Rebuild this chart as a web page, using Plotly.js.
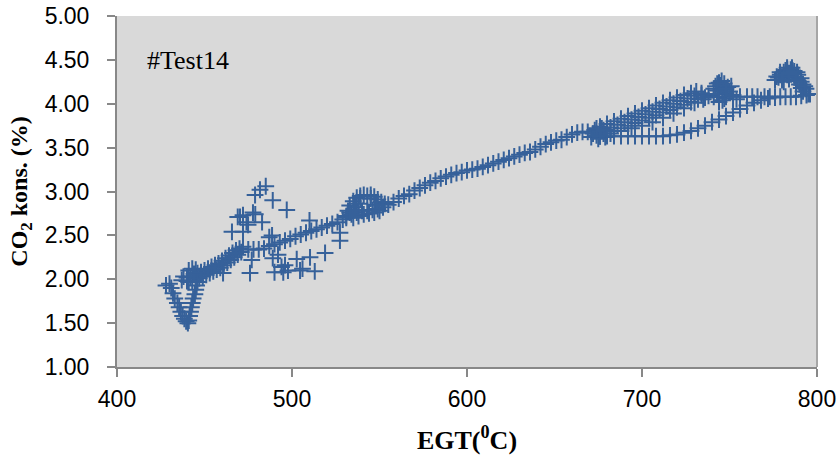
<!DOCTYPE html>
<html>
<head>
<meta charset="utf-8">
<script src="https://cdn.plot.ly/plotly-3.0.1.min.js"></script>
<style>html,body{margin:0;padding:0;background:#fff;}#chart{width:839px;height:461px;}</style>
</head>
<body>
<div id="chart"></div>
<script>
// Lower-left dip
const egtDip = [428,430,431,432,433,434.5,435.5,436.5,437.5,438.5,439.5,440.5,441,441.5,442,442.5,443,443.5,444.5,445,445.5,446];
const co2Dip = [1.93,1.95,1.90,1.84,1.78,1.73,1.68,1.63,1.58,1.55,1.52,1.50,1.53,1.58,1.63,1.68,1.73,1.78,1.83,1.88,1.93,1.97];

// Dense cluster 437-472
const egtStart = [437,438,440,440,441,441,443,443,445,445,447,449,451,453,455,457,459,461,463,465,467,469,471,
                  442,444,446,448,450,452,454,456,458,460,462,464,466,468,470,472];
const co2Start = [1.99,2.03,2.02,1.98,1.97,2.10,1.98,2.12,1.99,2.11,2.01,2.03,2.05,2.07,2.09,2.11,2.13,2.16,2.19,2.22,2.25,2.28,2.31,
                  2.03,2.06,2.07,2.08,2.10,2.12,2.14,2.16,2.18,2.21,2.24,2.27,2.30,2.33,2.35,2.37];

// Scattered excursions 460-530
const egtScatter = [465.7,469,470.3,472,472,474,474.9,477.7,479,482.9,478.9,481.7,485,489,497,488.6,487,510,
                    460.6,476,477,489,490,492,494,495,496,497.7,502.7,504.6,506,510.3,513,518.9,527.4,527.4];
const co2Scatter = [2.54,2.71,2.71,2.73,2.54,2.65,2.62,2.76,2.74,2.65,2.96,3.02,3.06,2.90,2.79,2.50,2.48,2.67,
                    2.07,2.07,2.22,2.24,2.08,2.28,2.14,2.08,2.16,2.10,2.23,2.10,2.12,2.25,2.09,2.30,2.44,2.53];

// Main line 472-531
const egtLineA = [475,478,481,484,487,490,493,496,499,502,505,508,511,514,517,520,523,526,529,531];
const co2LineA = [2.34,2.34,2.34,2.35,2.38,2.40,2.42,2.44,2.46,2.49,2.51,2.53,2.55,2.57,2.59,2.61,2.63,2.65,2.68,2.70];

// Loop around 531-556
const egtLoop = [531,532,533,535,537,539,541,543,545,547,549,551,553,555,552,549,546,543,540,537,534,536,538,548,535,538,541,544,547,550,533,536,539,545];
const co2Loop = [2.72,2.78,2.84,2.89,2.93,2.95,2.96,2.95,2.96,2.94,2.91,2.88,2.86,2.85,2.82,2.80,2.79,2.78,2.78,2.76,2.74,2.82,2.86,2.85,2.70,2.72,2.74,2.75,2.76,2.78,2.76,2.79,2.92,2.92];

// Main line 558-669
const egtLineB = [558,561,564,567,570,573,576,579,582,585,588,591,594,597,600,603,606,609,612,615,618,621,624,627,630,633,636,639,642,645,648,651,654,657,660,663,666,669];
const co2LineB = [2.88,2.92,2.95,2.97,3.01,3.04,3.07,3.10,3.12,3.15,3.17,3.19,3.21,3.22,3.24,3.25,3.26,3.28,3.30,3.32,3.34,3.36,3.38,3.40,3.42,3.44,3.45,3.48,3.51,3.54,3.56,3.58,3.59,3.62,3.65,3.67,3.68,3.68];

// Cluster near 675
const egtKnot = [671,672,673,674,675,676,677,678,679,680,674,676];
const co2Knot = [3.62,3.66,3.70,3.64,3.60,3.68,3.72,3.66,3.62,3.70,3.72,3.63];

// Upper band 676-736
const egtBand = [676,680,684,688,692,696,700,704,708,712,716,720,724,728,731,734,
                 678,682,686,690,694,698,702,706,710,714,718,722,726,730,734,
                 680,684,688,692,696,700,704,708,712,716,720,724,728,732,736,
                 676,682,688,694,700,706,712,718,724,730,735];
const co2Band = [3.74,3.77,3.80,3.83,3.86,3.89,3.92,3.95,3.98,4.01,4.04,4.07,4.10,4.12,4.14,4.12,
                 3.70,3.73,3.76,3.79,3.82,3.85,3.88,3.91,3.94,3.97,4.00,4.03,4.06,4.09,4.10,
                 3.66,3.69,3.72,3.75,3.78,3.81,3.84,3.87,3.90,3.93,3.96,3.99,4.02,4.05,4.07,
                 3.63,3.66,3.69,3.72,3.75,3.79,3.84,3.89,3.95,4.01,4.05];

// Lower return branch 676-776
const egtReturn = [676,680,684,688,692,696,700,704,708,712,716,720,724,728,732,736,740,744,748,752,756,760,764,768,772,776];
const co2Return = [3.63,3.63,3.63,3.63,3.63,3.63,3.63,3.63,3.63,3.63,3.64,3.65,3.67,3.69,3.72,3.75,3.79,3.82,3.86,3.90,3.94,3.98,4.01,4.04,4.06,4.07];

// Plateau 738-796
const egtPlateau = [738,741,744,748,752,756,760,763,766,770,773,776,779,782,785,788,791,794,796];
const co2Plateau = [4.09,4.08,4.08,4.08,4.08,4.08,4.08,4.08,4.08,4.08,4.08,4.08,4.08,4.08,4.08,4.08,4.09,4.10,4.11];

// Cluster near 745
const egtPeak1 = [741,742,743,743,744,744,744,745.5,746,746,747,747,748,749,750,751,752,754,745,743,748];
const co2Peak1 = [4.17,4.20,4.15,4.11,4.24,4.08,4.02,4.26,4.16,4.04,4.23,4.06,4.12,4.19,4.14,4.20,4.10,4.05,4.21,4.23,4.17];

// Cluster near 785
const egtPeak2 = [776,778.9,782.9,785.7,788.6,790.9,792,793.7,795,780,783,786,784,787,781,778,789,790,791,792,786,782,
                  777,779,781,783,785,787,789,784,788,791,793,780,784];
const co2Peak2 = [4.27,4.36,4.41,4.41,4.36,4.29,4.22,4.17,4.11,4.30,4.33,4.35,4.28,4.30,4.25,4.30,4.26,4.22,4.18,4.14,4.38,4.38,
                  4.31,4.33,4.36,4.39,4.39,4.37,4.33,4.31,4.28,4.25,4.20,4.27,4.35];

const xTickVals = [400,500,600,700,800];
const yTickVals = [1.0,1.5,2.0,2.5,3.0,3.5,4.0,4.5,5.0];

const groups = [
  [egtDip, co2Dip],[egtStart, co2Start],[egtScatter, co2Scatter],[egtLineA, co2LineA],
  [egtLoop, co2Loop],[egtLineB, co2LineB],[egtKnot, co2Knot],[egtBand, co2Band],
  [egtReturn, co2Return],[egtPlateau, co2Plateau],[egtPeak1, co2Peak1],[egtPeak2, co2Peak2]
];

const markerColor = '#36619a';
const traces = groups.map(g => ({
  x: g[0], y: g[1], type: 'scatter', mode: 'markers', showlegend: false, hoverinfo: 'x+y',
  marker: {symbol: 'cross-thin', size: 12, color: markerColor, line: {color: markerColor, width: 2}}
}));

const axisColor = '#888888';
const layout = {
  width: 839, height: 461,
  margin: {l: 117, r: 22, t: 16, b: 94, pad: 0},
  paper_bgcolor: '#ffffff',
  plot_bgcolor: '#d9d9d9',
  showlegend: false,
  font: {family: '"Liberation Sans", Arial, sans-serif', color: '#000000', size: 23},
  xaxis: {
    range: [400, 800], tickvals: xTickVals, ticktext: xTickVals.map(String),
    showgrid: false, zeroline: false, showline: true, linecolor: axisColor, linewidth: 2,
    ticks: 'outside', ticklen: 8, tickwidth: 2, tickcolor: axisColor, ticklabelstandoff: 2,
    tickfont: {family: '"Liberation Sans", Arial, sans-serif', size: 23, color: '#000'},
    title: {text: 'EGT(<sup>0</sup>C)', standoff: 20,
            font: {family: '"Liberation Serif", "Times New Roman", serif', size: 26, color: '#000', weight: 'bold'}}
  },
  yaxis: {
    range: [1, 5], tickvals: yTickVals, ticktext: yTickVals.map(v => v.toFixed(2)),
    showgrid: false, zeroline: false, showline: true, linecolor: axisColor, linewidth: 2,
    ticks: 'outside', ticklen: 8, tickwidth: 2, tickcolor: axisColor, ticklabelstandoff: 13,
    tickfont: {family: '"Liberation Sans", Arial, sans-serif', size: 23, color: '#000'},
    title: {text: 'CO<sub>2</sub> kons. (%)', standoff: 10,
            font: {family: '"Liberation Serif", "Times New Roman", serif', size: 24, color: '#000', weight: 'bold'}}
  },
  annotations: [{
    xref: 'paper', yref: 'paper', x: 0.04, y: 0.872, xanchor: 'left', yanchor: 'middle',
    text: '#Test14', showarrow: false,
    font: {family: '"Liberation Serif", "Times New Roman", serif', size: 26, color: '#000'}
  }],
  shapes: [{type: 'line', xref: 'paper', yref: 'paper', x0: 1, x1: 1, y0: 0, y1: 1,
            line: {color: '#a6a6a6', width: 2}}]
};

Plotly.newPlot('chart', traces, layout, {staticPlot: true, displayModeBar: false});
</script>
</body>
</html>
